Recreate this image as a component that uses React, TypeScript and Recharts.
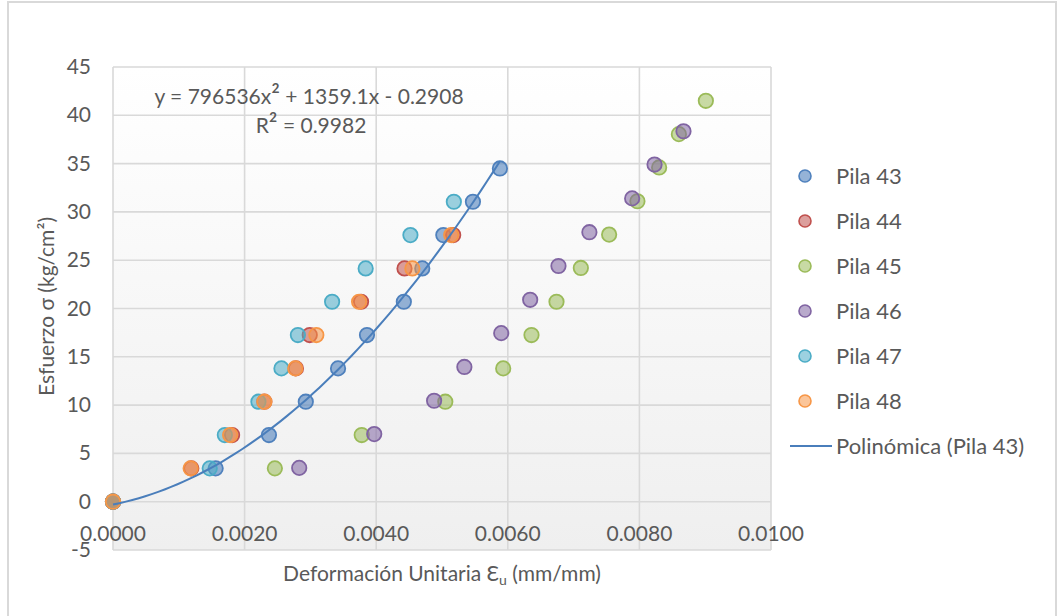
import React from "react";
import {
  ScatterChart,
  Scatter,
  XAxis,
  YAxis,
  CartesianGrid,
  Legend,
} from "recharts";

// ---- Data ----
const pila43X = [0, 0.00156, 0.00237, 0.00293, 0.00342, 0.00386, 0.00442, 0.0047, 0.00502, 0.00547, 0.00588];
const pila43Y = [0, 3.45, 6.9, 10.35, 13.8, 17.25, 20.7, 24.15, 27.6, 31.05, 34.5];

const pila44X = [0, 0.00119, 0.00181, 0.0023, 0.00278, 0.00299, 0.00377, 0.00443, 0.00517];
const pila44Y = [0, 3.45, 6.9, 10.35, 13.8, 17.25, 20.7, 24.15, 27.6];

const pila45X = [0, 0.00246, 0.00378, 0.00505, 0.00593, 0.00636, 0.00674, 0.00711, 0.00754, 0.00797, 0.0083, 0.0086, 0.00901];
const pila45Y = [0, 3.45, 6.9, 10.35, 13.8, 17.25, 20.7, 24.2, 27.65, 31.1, 34.6, 38.05, 41.5];

const pila46X = [0, 0.00283, 0.00397, 0.00488, 0.00534, 0.0059, 0.00634, 0.00677, 0.00724, 0.00789, 0.00823, 0.00867];
const pila46Y = [0, 3.5, 7.0, 10.45, 13.95, 17.45, 20.9, 24.4, 27.9, 31.4, 34.9, 38.35];

const pila47X = [0, 0.00147, 0.0017, 0.00221, 0.00256, 0.00281, 0.00333, 0.00384, 0.00452, 0.00518];
const pila47Y = [0, 3.45, 6.9, 10.35, 13.8, 17.25, 20.7, 24.15, 27.6, 31.05];

const pila48X = [0, 0.00118, 0.00178, 0.0023, 0.00277, 0.00309, 0.00374, 0.00455, 0.00514];
const pila48Y = [0, 3.45, 6.9, 10.35, 13.8, 17.25, 20.7, 24.15, 27.6];

// Trendline coefficients displayed on the chart: y = a x^2 + b x + c
const trendCoefficients = [796536, 1359.1, -0.2908];
const trendRange = [0, 0.00588];
const trendSteps = 60;

const xTicks = [0, 0.002, 0.004, 0.006, 0.008, 0.01];
const yTicks = [-5, 0, 5, 10, 15, 20, 25, 30, 35, 40, 45];

const seriesNames = ["Pila 43", "Pila 44", "Pila 45", "Pila 46", "Pila 47", "Pila 48"];
const trendName = "Polinómica (Pila 43)";
const equationParts = ["y = 796536x", "²", " + 1359.1x - 0.2908"];
const r2Parts = ["R", "²", " = 0.9982"];

// ---- Styles ----
const FONT = "Lato, 'Open Sans', sans-serif";
const FS = 21;
const TEXT = "#595959";
const GRID = "#d9d9d9";
const COLORS = [
  { stroke: "#4F81BD", fill: "rgba(79,129,189,0.6)" },
  { stroke: "#C0504D", fill: "rgba(192,80,77,0.55)" },
  { stroke: "#9BBB59", fill: "rgba(155,187,89,0.55)" },
  { stroke: "#8064A2", fill: "rgba(128,100,162,0.55)" },
  { stroke: "#4BACC6", fill: "rgba(75,172,198,0.55)" },
  { stroke: "#F79646", fill: "rgba(247,150,70,0.55)" },
];
const TREND_COLOR = "#4A7EBB";

const zip = (xs: number[], ys: number[]) => xs.map((x, i) => ({ x, y: ys[i] }));
const seriesData = [
  zip(pila43X, pila43Y),
  zip(pila44X, pila44Y),
  zip(pila45X, pila45Y),
  zip(pila46X, pila46Y),
  zip(pila47X, pila47Y),
  zip(pila48X, pila48Y),
];

const trendData = Array.from({ length: trendSteps + 1 }, (_, i) => {
  const x = trendRange[0] + ((trendRange[1] - trendRange[0]) * i) / trendSteps;
  const [a, b, c] = trendCoefficients;
  return { x, y: a * x * x + b * x + c };
});

const makeDot = (idx: number) => (props: any) => {
  const { cx, cy } = props;
  if (cx == null || cy == null) return <g />;
  return (
    <circle
      cx={cx}
      cy={cy}
      r={7.2}
      fill={COLORS[idx].fill}
      stroke={COLORS[idx].stroke}
      strokeWidth={1.8}
    />
  );
};

const XTick = (props: any) => {
  const { x, y, payload } = props;
  return (
    <text x={x} y={y - 9} textAnchor="middle" fontFamily={FONT} fontSize={FS} fill={TEXT}>
      {Number(payload.value).toFixed(4)}
    </text>
  );
};

const YTick = (props: any) => {
  const { x, y, payload } = props;
  return (
    <text x={x} y={y} dy={7} textAnchor="end" fontFamily={FONT} fontSize={FS} fill={TEXT}>
      {payload.value}
    </text>
  );
};

const LegendContent = () => (
  <div style={{ fontFamily: FONT, fontSize: 22, color: TEXT }}>
    {seriesNames.map((name, i) => (
      <div key={name} style={{ height: 45, display: "flex", alignItems: "center" }}>
        <svg width={46} height={20} style={{ flex: "none" }}>
          <circle cx={15} cy={10} r={6} fill={COLORS[i].fill} stroke={COLORS[i].stroke} strokeWidth={1.6} />
        </svg>
        <span>{name}</span>
      </div>
    ))}
    <div style={{ height: 45, display: "flex", alignItems: "center" }}>
      <svg width={46} height={20} style={{ flex: "none" }}>
        <line x1={0} y1={10} x2={42} y2={10} stroke={TREND_COLOR} strokeWidth={2} />
      </svg>
      <span>{trendName}</span>
    </div>
  </div>
);

export default function App() {
  return (
    <div
      style={{
        position: "absolute",
        left: 0,
        top: 0,
        width: 1059,
        height: 616,
        overflow: "hidden",
        background: "#fff",
      }}
    >
      <div
        style={{
          position: "absolute",
          left: 7,
          top: 1,
          width: 1046,
          height: 640,
          border: "2px solid #d9d9d9",
        }}
      />
      <ScatterChart
        width={1059}
        height={616}
        margin={{ top: 67, right: 38, bottom: 0, left: 0 }}
        style={{ position: "absolute", left: 0, top: 0 }}
      >
        <defs>
          <linearGradient id="plotBg" x1="0" y1="0" x2="0" y2="1">
            <stop offset="0%" stopColor="#ffffff" />
            <stop offset="100%" stopColor="#efefef" />
          </linearGradient>
        </defs>
        <CartesianGrid
          stroke={GRID}
          strokeWidth={1.6}
          fill="url(#plotBg)"
          horizontalValues={yTicks}
          verticalValues={xTicks}
        />
        <XAxis
          type="number"
          dataKey="x"
          domain={[0, 0.01]}
          ticks={xTicks}
          height={66}
          axisLine={false}
          tickLine={false}
          tickSize={0}
          tickMargin={0}
          tick={<XTick />}
          interval={0}
          label={{
            content: (p: any) => {
              const vb = p.viewBox || {};
              return (
                <text
                  x={vb.x + vb.width / 2}
                  y={vb.y + 31}
                  textAnchor="middle"
                  fontFamily={FONT}
                  fontSize={FS}
                  fill={TEXT}
                >
                  Deformación Unitaria Ɛ
                  <tspan fontSize={14} dy={4}>u</tspan>
                  <tspan dy={-4}> (mm/mm)</tspan>
                </text>
              );
            },
          }}
        />
        <YAxis
          type="number"
          dataKey="y"
          domain={[-5, 45]}
          ticks={yTicks}
          width={113}
          axisLine={false}
          tickLine={false}
          tickSize={0}
          tickMargin={22}
          tick={<YTick />}
          interval={0}
          label={{
            content: (p: any) => {
              const vb = p.viewBox || {};
              const cx = 45;
              const cy = vb.y + vb.height / 2 - 2;
              return (
                <text
                  x={cx}
                  y={cy}
                  transform={`rotate(-90 ${cx} ${cy})`}
                  textAnchor="middle"
                  dominantBaseline="central"
                  fontFamily={FONT}
                  fontSize={FS}
                  fill={TEXT}
                >
                  Esfuerzo σ (kg/cm²)
                </text>
              );
            },
          }}
        />
        {seriesData.map((d, i) => (
          <Scatter
            key={seriesNames[i]}
            name={seriesNames[i]}
            data={d}
            fill={COLORS[i].fill}
            stroke={COLORS[i].stroke}
            shape={makeDot(i)}
            isAnimationActive={false}
          />
        ))}
        <Scatter
          name={trendName}
          data={trendData}
          line={{ stroke: TREND_COLOR, strokeWidth: 2 }}
          shape={() => <g />}
          fill={TREND_COLOR}
          legendType="line"
          isAnimationActive={false}
        />
        <Legend
          layout="vertical"
          align="right"
          verticalAlign="middle"
          width={250}
          content={<LegendContent />}
          wrapperStyle={{ left: 790, top: 153, right: "auto" }}
        />
        <text x={309} y={104} textAnchor="middle" fontFamily={FONT} fontSize={FS} fill={TEXT}>
          {equationParts[0]}
          <tspan fontSize={26} dy={1}>{equationParts[1]}</tspan>
          <tspan dy={-1}>{equationParts[2]}</tspan>
        </text>
        <text x={311} y={133} textAnchor="middle" fontFamily={FONT} fontSize={FS} fill={TEXT}>
          {r2Parts[0]}
          <tspan fontSize={26} dy={1}>{r2Parts[1]}</tspan>
          <tspan dy={-1}>{r2Parts[2]}</tspan>
        </text>
      </ScatterChart>
    </div>
  );
}
